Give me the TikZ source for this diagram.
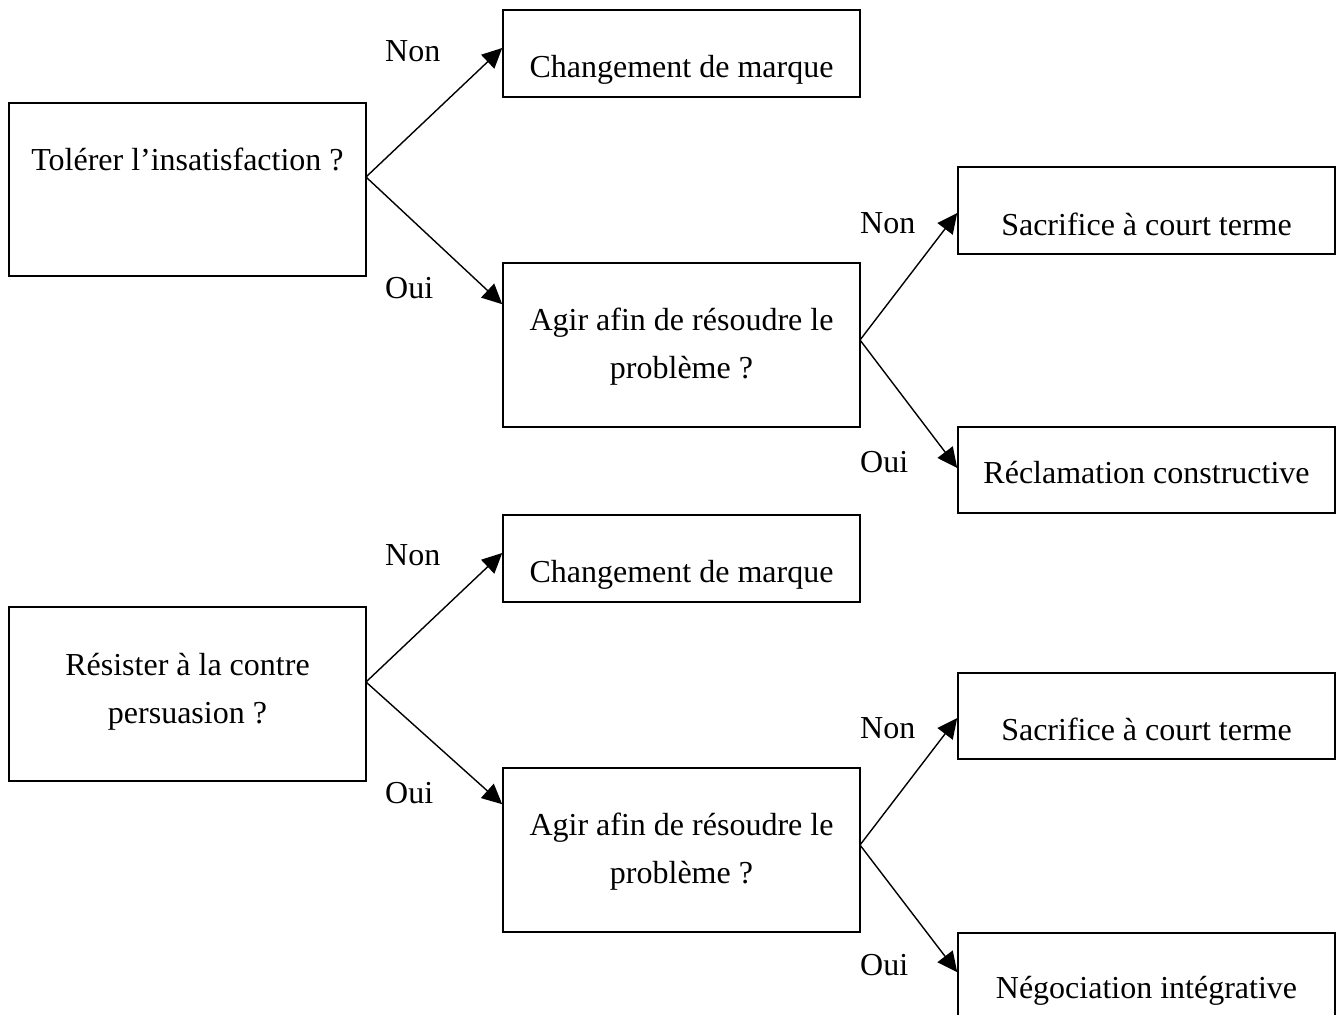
\documentclass[tikz,border=0pt]{standalone}
\usepackage{fontspec}
\setmainfont{Liberation Serif}
\usetikzlibrary{arrows.meta}
\begin{document}
\begin{tikzpicture}[x=1pt,y=-1pt,
  font=\fontsize{32}{38}\selectfont,
  box/.style={draw,line width=1.6pt,rectangle,inner sep=0pt,minimum width=357pt},
  rbox/.style={box,minimum width=377pt},
  txt/.style={inner sep=0pt,anchor=base},
  lbl/.style={inner sep=0pt,anchor=base west},
  arr/.style={line width=1.4pt,-{Triangle[length=20pt,width=19pt]}}]
\useasboundingbox (0,0) rectangle (1343,1014);
\clip (0,0) rectangle (1343,1014);
% ---------- upper tree ----------
\node[box,minimum height=173pt] (q1) at (187.5,189.5) {};
\node[box,minimum height=87pt] (c1) at (681.5,53.5) {};
\node[box,minimum height=164pt] (a1) at (681.5,345) {};
\node[rbox,minimum height=87pt] (s1) at (1146.5,210.5) {};
\node[rbox,minimum height=86pt] (r1) at (1146.5,470) {};
\node[txt] (tq1) at (187.5,170) {Tolérer l’insatisfaction ?};
\node[txt] (tc1) at (681.5,78) {Changement de marque};
\node[txt] (ta1a) at (681.5,330) {Agir afin de résoudre le};
\node[txt] (ta1b) at (681.5,378) {problème ?};
\node[txt] (ts1) at (1146.5,235) {Sacrifice à court terme};
\node[txt] (tr1) at (1146.5,483) {Réclamation constructive};
\node[lbl] (n1) at (385,62) {Non};
\node[lbl] (o1) at (385,298) {Oui};
\node[lbl] (n2) at (860,233) {Non};
\node[lbl] (o2) at (860,472) {Oui};
\coordinate (b1) at (366,177);
\coordinate (b2) at (860,340);
\draw[arr] (b1) -- ([yshift=5.5pt]c1.west);
\draw[arr] (b1) -- ([yshift=-42pt]a1.north west);
\draw[arr] (b2) -- ([yshift=-2.5pt]s1.west);
\draw[arr] (b2) -- ([yshift=2pt]r1.west);
% ---------- lower tree ----------
\node[box,minimum height=174pt] (q2) at (187.5,694) {};
\node[box,minimum height=87pt] (c2) at (681.5,558.5) {};
\node[box,minimum height=164pt] (a2) at (681.5,850) {};
\node[rbox,minimum height=86pt] (s2) at (1146.5,716) {};
\node[rbox,minimum height=87pt] (g2) at (1146.5,976.5) {};
\node[txt] (tq2a) at (187.5,675) {Résister à la contre};
\node[txt] (tq2b) at (187.5,723) {persuasion ?};
\node[txt] (tc2) at (681.5,582) {Changement de marque};
\node[txt] (ta2a) at (681.5,835) {Agir afin de résoudre le};
\node[txt] (ta2b) at (681.5,883) {problème ?};
\node[txt] (ts2) at (1146.5,740) {Sacrifice à court terme};
\node[txt] (tg2) at (1146.5,998) {Négociation intégrative};
\node[lbl] (n3) at (385,565) {Non};
\node[lbl] (o3) at (385,803) {Oui};
\node[lbl] (n4) at (860,738) {Non};
\node[lbl] (o4) at (860,975) {Oui};
\coordinate (b3) at (366,682);
\coordinate (b4) at (860,845);
\draw[arr] (b3) -- ([yshift=5.5pt]c2.west);
\draw[arr] (b3) -- ([yshift=-37pt]a2.north west);
\draw[arr] (b4) -- ([yshift=-2pt]s2.west);
\draw[arr] (b4) -- ([yshift=-40pt]g2.north west);
\end{tikzpicture}
\end{document}
